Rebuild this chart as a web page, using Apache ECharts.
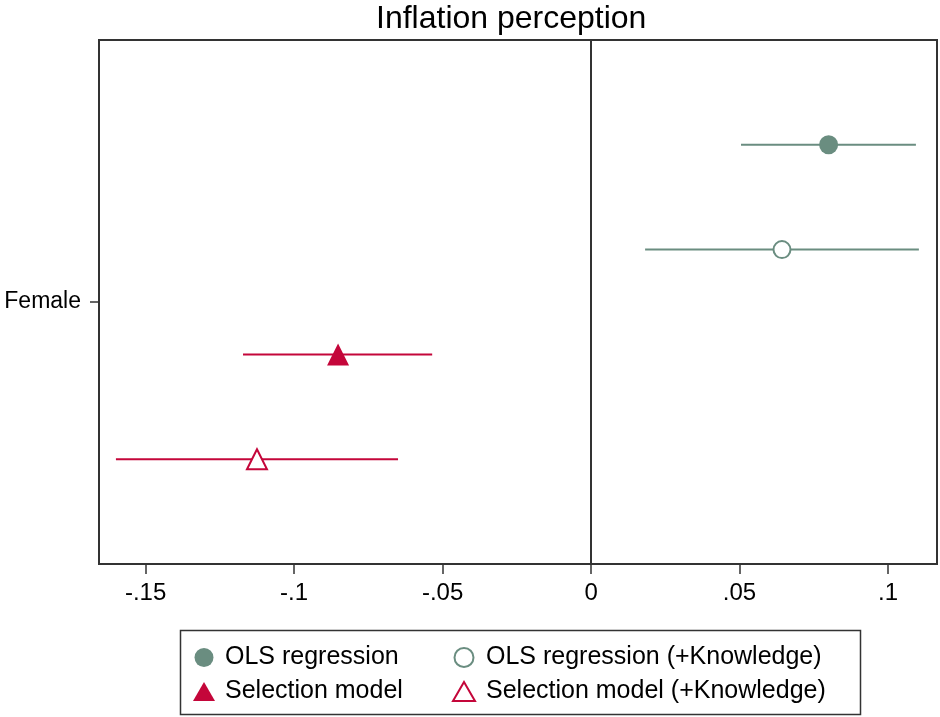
<!DOCTYPE html>
<html>
<head>
<meta charset="utf-8">
<script src="https://cdn.jsdelivr.net/npm/echarts@6/dist/echarts.min.js"></script>
<style>html,body{margin:0;padding:0;background:#fff}#c{width:940px;height:717px}</style>
</head>
<body>
<div id="c"></div>
<script>
// Data (coefficient estimates with confidence intervals), row = position on y scale
var seriesNames = ['OLS regression', 'OLS regression (+Knowledge)', 'Selection model', 'Selection model (+Knowledge)'];
var rowPos = [1, 2, 3, 4];
var estimates = [0.080, 0.0643, -0.0852, -0.1125];
var ciLow = [0.0505, 0.0182, -0.1172, -0.160];
var ciHigh = [0.1094, 0.1104, -0.0535, -0.065];
var xTicks = [-0.15, -0.1, -0.05, 0, 0.05, 0.1];
var yCategoryLabel = 'Female';
var yCategoryPos = [2.5];

var green = '#6a8d80', red = '#c4063a';
var colors = [green, green, red, red];
var filled = [true, false, true, false];
var symbols = ['circle', 'circle', 'triangle', 'triangle'];
var sizes = [19, 17, 22, 20];
var FONT = 'Liberation Sans, Arial, sans-serif';

function fmtTick(v) {
  var s = String(Math.round(v * 1000) / 1000);
  return s.replace(/^0\./, '.').replace(/^-0\./, '-.');
}

var series = [];
seriesNames.forEach(function (name, i) {
  series.push({
    type: 'custom',
    name: name + ' CI',
    silent: true,
    z: 2,
    data: [[ciLow[i], ciHigh[i], rowPos[i]]],
    renderItem: function (params, api) {
      var a = api.coord([api.value(0), api.value(2)]);
      var b = api.coord([api.value(1), api.value(2)]);
      return { type: 'line', shape: { x1: a[0], y1: a[1], x2: b[0], y2: b[1] },
        style: { stroke: colors[i], lineWidth: 2 } };
    },
    encode: { x: [0, 1], y: 2 }
  });
});
seriesNames.forEach(function (name, i) {
  series.push({
    type: 'scatter',
    name: name,
    z: 3,
    symbol: symbols[i],
    symbolSize: sizes[i],
    data: [[estimates[i], rowPos[i]]],
    itemStyle: filled[i] ? { color: colors[i], opacity: 1 } :
      { color: '#ffffff', borderColor: colors[i], borderWidth: 2, opacity: 1 },
    markLine: i === 0 ? {
      silent: true, symbol: 'none', label: { show: false },
      lineStyle: { color: '#333', width: 2, type: 'solid' },
      data: [{ xAxis: 0 }]
    } : undefined
  });
});

function legendCommon(pad) {
  return {
    orient: 'vertical', itemGap: 9, itemWidth: 22, itemHeight: 19,
    textStyle: { fontFamily: FONT, fontSize: 25, lineHeight: 25, color: '#000', padding: [0, 0, 0, pad] },
    selectedMode: false
  };
}

var chart = echarts.init(document.getElementById('c'), null, { renderer: 'canvas' });
chart.setOption({
  animation: false,
  backgroundColor: '#fff',
  title: {
    text: 'Inflation perception', left: 376, top: 0, padding: [3, 0, 3, 0],
    textStyle: { fontFamily: FONT, fontSize: 32, fontWeight: 'normal', color: '#000' }
  },
  grid: { left: 99, right: 3, top: 40, bottom: 153, show: true, borderColor: '#333', borderWidth: 2, containLabel: false },
  xAxis: {
    type: 'value', min: -0.1657, max: 0.1165,
    axisLine: { show: true, onZero: false, lineStyle: { color: '#333', width: 2 } },
    axisTick: { show: true, length: 10, customValues: xTicks, lineStyle: { color: '#333', width: 1.5 } },
    axisLabel: { customValues: xTicks, formatter: fmtTick, fontFamily: FONT, fontSize: 24, color: '#000', margin: 17 },
    splitLine: { show: false }
  },
  yAxis: {
    type: 'value', min: 0, max: 5, inverse: true,
    axisLine: { show: true, onZero: false, lineStyle: { color: '#333', width: 2 } },
    axisTick: { show: true, length: 9, customValues: yCategoryPos, lineStyle: { color: '#333', width: 1.5 } },
    axisLabel: { customValues: yCategoryPos, formatter: function () { return yCategoryLabel; }, fontFamily: FONT, fontSize: 23, color: '#000', margin: 18 },
    splitLine: { show: false }
  },
  legend: [
    Object.assign({ left: 188, top: 640, data: [seriesNames[0], seriesNames[2]] }, legendCommon(5)),
    Object.assign({ left: 447, top: 640, data: [seriesNames[1], seriesNames[3]] }, legendCommon(6))
  ],
  graphic: [{
    type: 'rect', left: 178, top: 628,
    shape: { width: 680, height: 84 },
    style: { fill: 'none', stroke: '#333', lineWidth: 1.5 }
  }],
  series: series
});
</script>
</body>
</html>
